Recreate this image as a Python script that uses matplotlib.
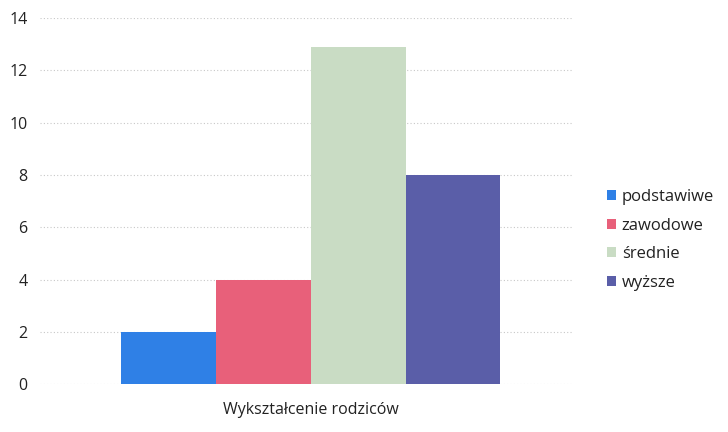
import matplotlib
matplotlib.use("Agg")
import matplotlib.pyplot as plt
from matplotlib.patches import Patch

plt.rcParams['font.family'] = ['Open Sans', 'DejaVu Sans']

series = ["podstawiwe", "zawodowe", "średnie", "wyższe"]
values = [2, 4, 12.9, 8]
colors = ["#2f80e6", "#e8607a", "#c9dcc4", "#5a5ea8"]
category = "Wykształcenie rodziców"
yticks = [0, 2, 4, 6, 8, 10, 12, 14]

fig = plt.figure(figsize=(7.28, 4.32), dpi=100)
ax = fig.add_axes([0.055, 0.111, 0.731, 0.847])

w = 0.178
n = len(series)
offsets = [(i - (n - 1) / 2) * w + 0.009 for i in range(n)]
for off, v, c in zip(offsets, values, colors):
    ax.bar(off, v, width=w, color=c, edgecolor="none", zorder=2)

ax.set_xlim(-0.5, 0.5)
ax.set_ylim(0, 14)
ax.set_yticks(yticks)
ax.set_yticklabels([str(t) for t in yticks], fontsize=11.5, color="#222222")
ax.set_xticks([0.009])
ax.set_xticklabels([category], fontsize=11.5, color="#222222")
ax.tick_params(axis="y", length=0, pad=9)
ax.tick_params(axis="x", length=0, pad=13)
ax.yaxis.grid(True, color="#c8c8c8", linestyle=(0, (1, 2)), linewidth=0.8, zorder=0)
for s in ax.spines.values():
    s.set_visible(False)

handles = [Patch(facecolor=c, edgecolor="none") for c in colors]
leg = fig.legend(handles, series, loc="center left", bbox_to_anchor=(0.822, 0.445),
                 frameon=False, fontsize=12, handlelength=0.55, handleheight=0.55,
                 handletextpad=0.35, labelspacing=0.75, borderpad=0)
for t in leg.get_texts():
    t.set_color("#222222")

fig.savefig("out.png", dpi=100)
